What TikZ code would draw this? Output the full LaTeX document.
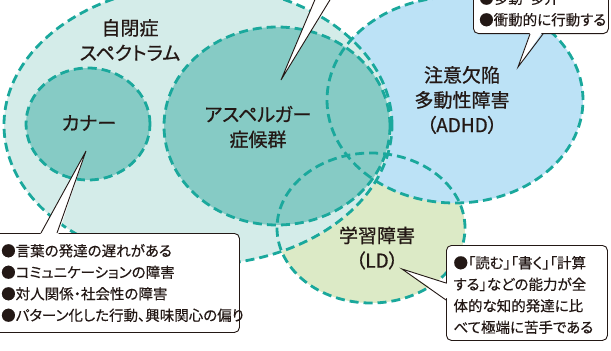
\documentclass[tikz,border=0pt]{standalone}
\usepackage{fontspec}
\setmainfont{Noto Sans CJK JP}[RawFeature=+palt]
\newfontfamily\lblfont{Noto Sans CJK JP}[RawFeature=+palt, FakeBold=0.8]
\newfontfamily\notefont{Noto Sans CJK JP}[RawFeature=+palt, FakeBold=0.3]
\XeTeXlinebreaklocale "ja"
\XeTeXlinebreakskip=0pt plus 2pt
\definecolor{ink}{HTML}{231815}
\definecolor{dashc}{HTML}{1AA89C}
\definecolor{asdc}{HTML}{D4ECE9}
\definecolor{aspc}{HTML}{86CBC5}
\definecolor{adhdc}{HTML}{BCE2F6}
\definecolor{ldc}{HTML}{DCEAC6}
\begin{document}
\begin{tikzpicture}[x=1pt,y=-1pt,
  border/.style={draw=dashc, line width=2.8pt, dash pattern=on 9pt off 5pt},
  lbl/.style={text=ink, font=\lblfont\fontsize{19}{25}\selectfont, align=center, inner sep=0pt},
  note/.style={text=ink, font=\notefont\fontsize{14.5}{21.5}\selectfont, align=left, inner sep=0pt},
  box/.style={draw=ink, line width=0.9pt, fill=white, rounded corners=5pt, inner sep=0pt},
  ptr/.style={draw=ink, line width=0.9pt, line join=miter}]
\useasboundingbox (0,0) rectangle (611,351);
\clip (0,0) rectangle (611,351);
\fill[white] (0,0) rectangle (611,351);
% centres
\coordinate (ldc) at (371,228);
\coordinate (adhdc) at (455,100);
\coordinate (asdc) at (198,125);
\coordinate (kanc) at (88,124);
\coordinate (aspc) at (277,126);
% fills
\fill[ldc] (ldc) ellipse [x radius=94pt, y radius=75pt];
\fill[adhdc] (adhdc) ellipse [x radius=128pt, y radius=103pt];
\fill[asdc] (asdc) ellipse [x radius=194pt, y radius=140pt];
\fill[aspc] (kanc) ellipse [x radius=62pt, y radius=56pt];
\fill[aspc] (aspc) ellipse [x radius=113pt, y radius=99pt];
% dashed borders
\path[border] (ldc) ellipse [x radius=94pt, y radius=75pt];
\path[border] (adhdc) ellipse [x radius=128pt, y radius=103pt];
\path[border] (asdc) ellipse [x radius=194pt, y radius=140pt];
\path[border] (kanc) ellipse [x radius=62pt, y radius=56pt];
\path[border] (aspc) ellipse [x radius=113pt, y radius=99pt];
% labels
\node[lbl] (asdlbl) at (130,40) {自閉症\\スペクトラム};
\node[lbl] (kanlbl) at (89,123) {カナー};
\node[lbl] (asplbl) at (258,127) {アスペルガー\\症候群};
\node[lbl] (adhdlbl) at (462,100) {注意欠陥\\多動性障害\\（ADHD）};
\node[lbl] (ldlbl) at (377,248) {学習障害\\（LD）};
% top callout (cut off)
\coordinate (t0tip) at (281,80);
\coordinate (t0a) at (319,-10);
\coordinate (t0b) at (336,-10);
\fill[white] (t0a) -- (t0tip) -- (t0b) -- cycle;
\draw[ptr] (t0a) -- (t0tip) -- (t0b);
% top right callout
\node[box, anchor=south west, minimum width=135pt, minimum height=80pt] (c2box) at (473,34) {};
\coordinate (c2tip) at (518,67);
\coordinate (c2a) at (530,34);
\coordinate (c2b) at (543,34);
\fill[white] (530.3,32) -- (c2tip) -- (542.3,32) -- cycle;
\draw[ptr] (c2a) -- (c2tip) -- (c2b);
\node[note, anchor=west] (c2txt) at (479,9) {●多動・多弁\\●衝動的に行動する};
% bottom left callout
\node[box, anchor=north west, minimum width=249pt, minimum height=99pt] (c1box) at (-10,233) {};
\coordinate (c1tip) at (86,151);
\coordinate (c1a) at (41,233);
\coordinate (c1b) at (57,233);
\fill[white] (40,235) -- (c1tip) -- (58,235) -- cycle;
\draw[ptr] (c1a) -- (c1tip) -- (c1b);
\node[note, anchor=west] (c1txt) at (1,283) {●言葉の発達の遅れがある\\●コミュニケーションの障害\\●対人関係・社会性の障害\\●パターン化した行動、興味関心の偏り};
% bottom right callout
\node[box, anchor=north west, minimum width=161pt, minimum height=95pt] (c3box) at (446,245) {};
\coordinate (c3tip) at (402,269);
\coordinate (c3a) at (446,283);
\coordinate (c3b) at (446,300);
\fill[white] (448,284) -- (c3tip) -- (448,299) -- cycle;
\draw[ptr] (c3a) -- (c3tip) -- (c3b);
\node[note, align=center] (c3txt) at (527,295) {\makebox[147pt][s]{●「読む」「書く」「計算}\\\makebox[147pt][s]{する」などの能力が全}\\\makebox[147pt][s]{体的な知的発達に比}\\\makebox[147pt][s]{べて極端に苦手である}};
\end{tikzpicture}
\end{document}
